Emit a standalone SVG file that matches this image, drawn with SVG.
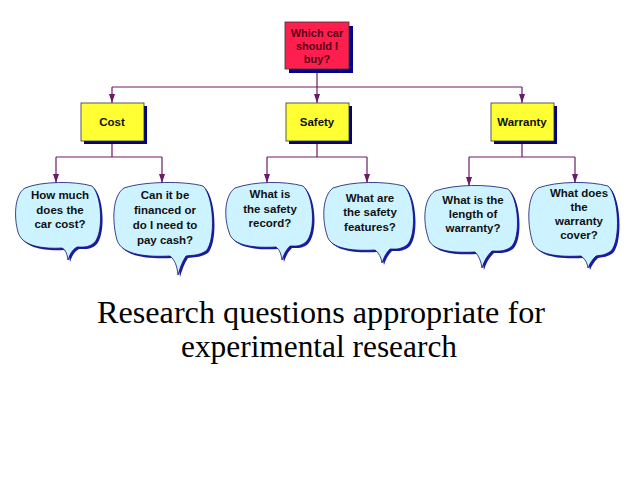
<svg xmlns="http://www.w3.org/2000/svg" xmlns:xlink="http://www.w3.org/1999/xlink" width="638" height="479" viewBox="0 0 638 479">
<style>
.box{stroke:#333;stroke-width:0.8}
.yel{fill:#ffff33}
.red{fill:#ff1f4f}
.shd{fill:#00008c}
.bshd{fill:#1a1aa6}
.bub{fill:#ccf3ff;stroke:#101070;stroke-width:0.8}
.lbl{font-family:"Liberation Sans",Arial,sans-serif;font-weight:bold;font-size:11.5px;text-anchor:middle;fill:#111}
.top{fill:#5a0014;font-size:11px}
.con{fill:none;stroke:#6a1a6a;stroke-width:1.2}
.cap{font-family:"Liberation Serif","Times New Roman",serif;font-size:31px;text-anchor:middle;fill:#000}
</style>
<defs>
<marker id="ah" markerUnits="userSpaceOnUse" markerWidth="8" markerHeight="10" refX="9" refY="3.5" orient="auto">
<path d="M0,0.5 L9,3.5 L0,6.5 Z" fill="#6a1a6a"/>
</marker>
<path id="p1" d="M25,188 C42,181 75,181 92,186 C102,195 104,233 94,243 C88,248 82,247 77,247 C72,250 70,254 68,260 C67,254 66,250 62,248 C45,249 22,247 18,232 C14,218 14,195 25,188 Z"/>
<path id="p2" d="M124,188 C145,181 185,181 203,186 C214,196 216,240 206,251 C198,256 192,255 186,256 C182,262 180,268 178,275 C177,266 175,260 170,256 C150,257 122,256 117,240 C112,222 112,196 124,188 Z"/>
<path id="p3" d="M235,188 C255,181 285,181 303,186 C314,196 316,232 306,242 C300,247 294,246 290,246 C286,250 284,254 282,260 C281,254 280,250 276,247 C258,248 232,247 229,232 C224,218 224,196 235,188 Z"/>
<path id="p4" d="M333,188 C352,181 385,181 404,186 C415,196 417,236 407,245 C400,250 395,249 390,249 C386,253 384,257 382,263 C381,257 379,253 375,250 C356,251 330,250 327,235 C322,220 322,196 333,188 Z"/>
<path id="p5" d="M435,191 C455,184 488,184 508,189 C519,199 521,238 511,247 C504,252 498,251 492,251 C487,256 484,261 482,268 C481,261 479,256 475,252 C456,253 430,252 428,237 C423,222 423,199 435,191 Z"/>
<path id="p6" d="M538,188 C557,181 590,181 608,186 C619,196 621,240 611,251 C604,256 600,255 596,256 C592,260 590,263 588,268 C587,262 585,259 581,256 C560,257 535,256 532,240 C527,222 527,196 538,188 Z"/>
</defs>
<rect width="638" height="479" fill="#fff"/>

<g id="connectors">
<path class="con" d="M317,73 V87 M112,87 H522"/>
<path class="con" d="M112,87 V103" marker-end="url(#ah)"/>
<path class="con" d="M317,87 V103" marker-end="url(#ah)"/>
<path class="con" d="M522,87 V103" marker-end="url(#ah)"/>
<path class="con" d="M112,144 V157 M56,157 H162"/>
<path class="con" d="M56,157 V183" marker-end="url(#ah)"/>
<path class="con" d="M162,157 V183" marker-end="url(#ah)"/>
<path class="con" d="M317,144 V157 M267,157 H367"/>
<path class="con" d="M267,157 V183" marker-end="url(#ah)"/>
<path class="con" d="M367,157 V183" marker-end="url(#ah)"/>
<path class="con" d="M522,144 V157 M469,157 H575"/>
<path class="con" d="M469,157 V186" marker-end="url(#ah)"/>
<path class="con" d="M575,157 V183" marker-end="url(#ah)"/>
</g>

<g id="n-root">
<rect class="shd" x="289" y="26" width="64" height="47"/>
<rect class="box red" x="285" y="22" width="64" height="47"/>
<text class="lbl top" x="317" y="37">Which car</text>
<text class="lbl top" x="317" y="50">should I</text>
<text class="lbl top" x="317" y="63">buy?</text>
</g>

<g id="n-cost">
<rect class="shd" x="84" y="106" width="63" height="38"/>
<rect class="box yel" x="81" y="103" width="63" height="38"/>
<text class="lbl" x="112" y="126">Cost</text>
</g>
<g id="n-safety">
<rect class="shd" x="289" y="106" width="63" height="38"/>
<rect class="box yel" x="286" y="103" width="63" height="38"/>
<text class="lbl" x="317" y="126">Safety</text>
</g>
<g id="n-warranty">
<rect class="shd" x="494" y="106" width="63" height="38"/>
<rect class="box yel" x="491" y="103" width="63" height="38"/>
<text class="lbl" x="522" y="126">Warranty</text>
</g>

<g id="q1">
<use xlink:href="#p1" class="bshd" transform="translate(2,2)"/>
<use xlink:href="#p1" class="bub"/>
<text class="lbl" x="60" y="199">How much</text>
<text class="lbl" x="60" y="214">does the</text>
<text class="lbl" x="60" y="228">car cost?</text>
</g>
<g id="q2">
<use xlink:href="#p2" class="bshd" transform="translate(2,2)"/>
<use xlink:href="#p2" class="bub"/>
<text class="lbl" x="165" y="199">Can it be</text>
<text class="lbl" x="165" y="214">financed or</text>
<text class="lbl" x="165" y="229">do I need to</text>
<text class="lbl" x="165" y="244">pay cash?</text>
</g>
<g id="q3">
<use xlink:href="#p3" class="bshd" transform="translate(2,2)"/>
<use xlink:href="#p3" class="bub"/>
<text class="lbl" x="270" y="198">What is</text>
<text class="lbl" x="270" y="213">the safety</text>
<text class="lbl" x="270" y="227">record?</text>
</g>
<g id="q4">
<use xlink:href="#p4" class="bshd" transform="translate(2,2)"/>
<use xlink:href="#p4" class="bub"/>
<text class="lbl" x="370" y="202">What are</text>
<text class="lbl" x="370" y="216">the safety</text>
<text class="lbl" x="370" y="231">features?</text>
</g>
<g id="q5">
<use xlink:href="#p5" class="bshd" transform="translate(2,2)"/>
<use xlink:href="#p5" class="bub"/>
<text class="lbl" x="473" y="204">What is the</text>
<text class="lbl" x="473" y="218">length of</text>
<text class="lbl" x="473" y="232">warranty?</text>
</g>
<g id="q6">
<use xlink:href="#p6" class="bshd" transform="translate(2,2)"/>
<use xlink:href="#p6" class="bub"/>
<text class="lbl" x="579" y="197">What does</text>
<text class="lbl" x="579" y="211">the</text>
<text class="lbl" x="579" y="225">warranty</text>
<text class="lbl" x="579" y="239">cover?</text>
</g>

<g id="caption">
<text class="cap" x="321" y="323" textLength="448" lengthAdjust="spacingAndGlyphs">Research questions appropriate for</text>
<text class="cap" x="319" y="357" textLength="276" lengthAdjust="spacingAndGlyphs">experimental research</text>
</g>
</svg>
